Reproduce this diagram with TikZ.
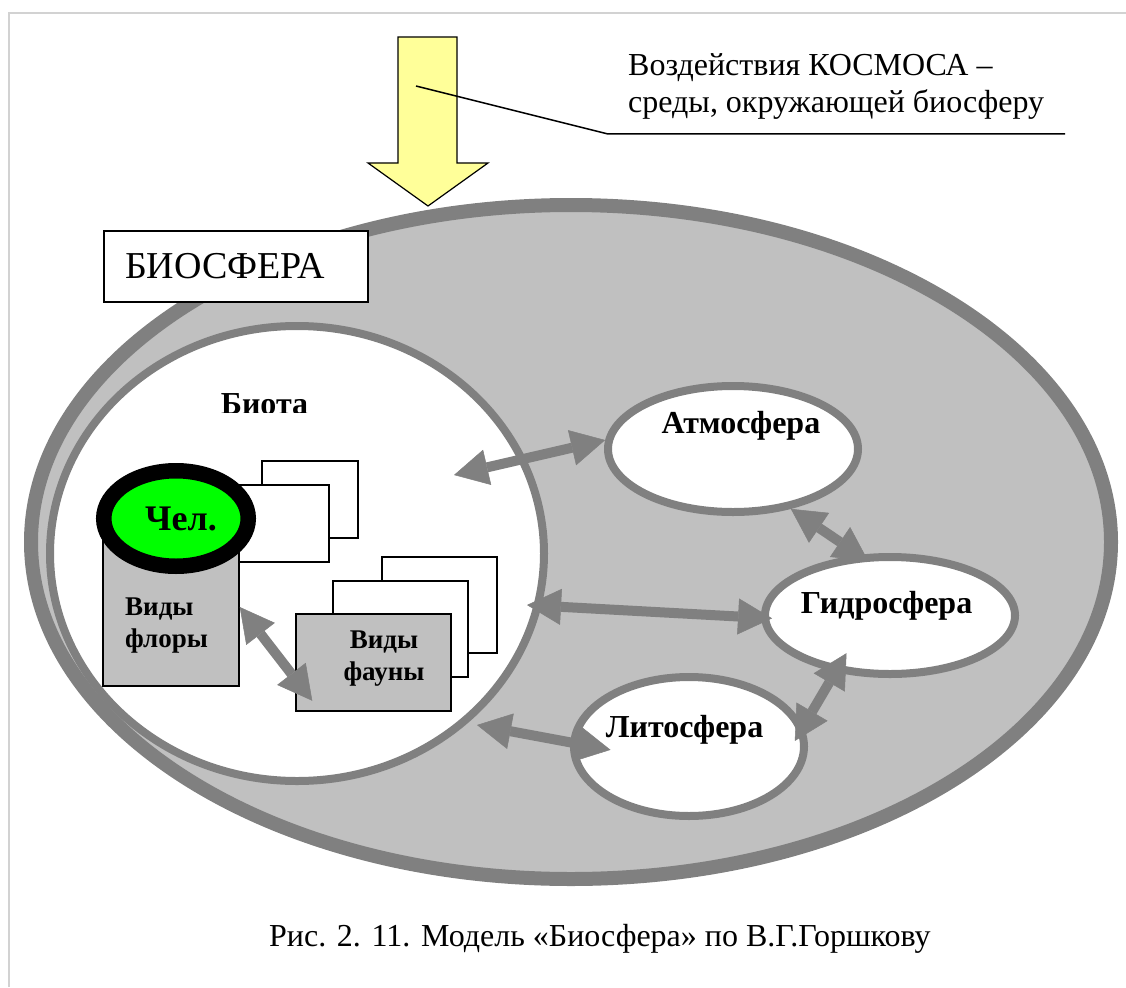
\documentclass[tikz,border=0pt]{standalone}
\usepackage{fontspec}
\setmainfont{Liberation Serif}
\usepackage{tikz}
\usetikzlibrary{shapes.geometric}
\usetikzlibrary{positioning}
\usetikzlibrary{arrows.meta}
\definecolor{bandgray}{HTML}{808080}
\definecolor{fillgray}{HTML}{C0C0C0}
\definecolor{sunyellow}{HTML}{FFFF99}
\definecolor{mangreen}{HTML}{00FF00}
\tikzset{tips=proper}
\tikzset{%
    sphere/.style={ellipse, draw=bandgray, line width=8pt, fill=white, inner sep=0pt},
    card/.style={rectangle, draw, line width=1.5pt, fill=white, inner sep=0pt},
    lbl/.style={font=\fontsize{32}{36}\selectfont\bfseries},
    spc/.style={font=\fontsize{27}{32}\selectfont\bfseries},
    link/.style={draw, color=bandgray, line width=10pt, {Triangle[width=36pt,length=34pt,line width=0.5pt]}-{Triangle[width=36pt,length=34pt,line width=0.5pt]}}
}

\begin{document}
\begin{tikzpicture}[x=1pt,y=-1pt]
		\tikzstyle{every node}=[font=\fontsize{32}{37}\selectfont]
		\useasboundingbox (0,0) rectangle (1126,987);
		\draw[gray!35, line width=1.2pt] (9,987) -- (9,13) -- (1126,13);

		% biosphere
		\node[ellipse, draw=bandgray, fill=fillgray, line width=14pt, minimum width=1080pt, minimum height=674pt] (bios) at (571,542) {};
		\node[card, minimum width=264pt, minimum height=71pt, text width=222pt, inner xsep=21pt, align=left, font=\fontsize{38}{40}\selectfont] (biosname) at (236,266.5) {БИОСФЕРА};

		% cosmos arrow
		\draw[fill=sunyellow, line width=1.2pt] (398,37) -- (457,37) -- (457,163) -- (488,163) -- (428,206) -- (368,163) -- (398,163) -- cycle;
		\coordinate (beam) at (416,86);
		\coordinate (bend) at (608,134);
		\coordinate (lineend) at (1065,134);
		\node[anchor=base west, align=left, inner sep=0pt] (cosmos) at (628,113) {Воздействия КОСМОСА –\\среды, окружающей биосферу};
		\draw[line width=1.5pt] (beam) -- (bend) -- (lineend);

		% biota
		\node[sphere, minimum width=494pt, minimum height=455pt] (biota) at (297,553.5) {};
		\begin{scope}
			\clip (200,380) rectangle (340,412);
			\node[lbl, anchor=base] (biotaname) at (264.5,414.5) {Биота};
		\end{scope}

		\node[card, minimum width=96pt, minimum height=77pt]                 (flora3) at (310,499.5) {};
		\node[card, minimum width=96pt, minimum height=77pt]                 (flora2) at (281,523.5) {};
		\node[card, fill=fillgray, minimum width=136pt, minimum height=146pt] (flora)  at (171,613)   {};
		\node[ellipse, draw=black, fill=mangreen, line width=15.5pt, minimum width=144.5pt, minimum height=95.5pt, inner sep=0pt,
		      label={[xshift=5pt, font=\fontsize{36}{40}\selectfont\bfseries]center:Чел.}] (man) at (176,518.5) {};
		\node[spc, anchor=base west, align=left, inner sep=0pt] (floraname) at (125,647) {Виды\\флоры};

		\node[card, minimum width=115pt, minimum height=96pt]                 (fauna3) at (439.5,605)   {};
		\node[card, minimum width=135pt, minimum height=96pt]                 (fauna2) at (400.5,629)   {};
		\node[card, fill=fillgray, minimum width=155pt, minimum height=97pt]  (fauna)  at (373.5,662.5) {};
		\node[spc, anchor=base, align=center, inner sep=0pt] (faunaname) at (384,680) {Виды\\фауны};

		% spheres
		\node[sphere, minimum width=250pt, minimum height=126pt, label={[lbl, xshift=8pt, yshift=23pt]center:Атмосфера}]    (atm)  at (733,449)   {};
		\node[sphere, minimum width=250pt, minimum height=117pt, label={[lbl, xshift=-3.5pt, yshift=9.5pt]center:Гидросфера}] (hyd)  at (890,615.5) {};
		\node[sphere, minimum width=230pt, minimum height=139pt, label={[lbl, xshift=-4.5pt, yshift=16.5pt]center:Литосфера}] (lito) at (689,746.5) {};

		\coordinate (bioA) at (454,475);
		\coordinate (bioB) at (527,605);
		\coordinate (bioC) at (477,725);

		\path[link]
		(bioA)      edge                                     (atm.176)
		(atm.-46)   edge [shorten >=-11pt]                   (hyd.117)
		(bioB)      edge [shorten >=-11pt]                   (hyd.181)
		(lito.10)   edge [shorten <=-17pt, shorten >=-22pt]  (hyd.226)
		(bioC)      edge [shorten >=-41pt]                   (lito.178)
		([yshift=6pt]flora.east) edge ([xshift=17pt,yshift=11pt]fauna.south west);

		\node[anchor=base west, inner sep=0pt, font=\fontsize{32}{36}\selectfont] (caption) at (269,946) {Рис. 2. 11. Модель «Биосфера» по В.Г.Горшкову};
	\end{tikzpicture}
\end{document}
